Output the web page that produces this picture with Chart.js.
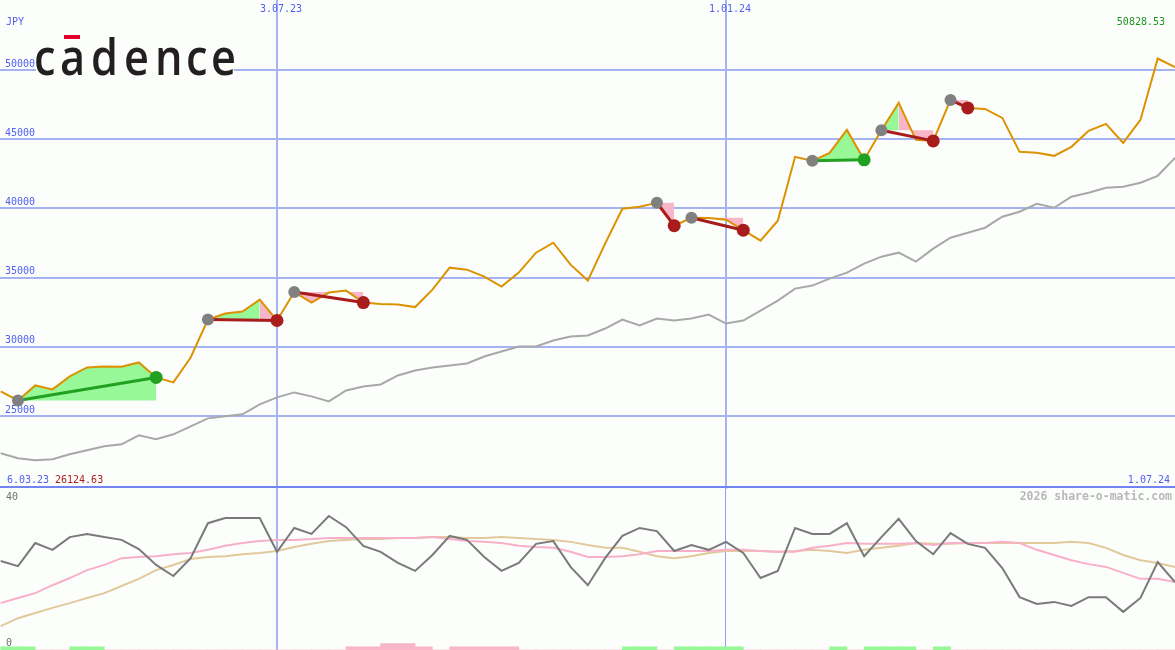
<!DOCTYPE html>
<html>
<head>
<meta charset="utf-8">
<script src="https://cdn.jsdelivr.net/npm/chart.js@4/dist/chart.umd.min.js"></script>
<style>
html,body{margin:0;padding:0;background:#fcfefc;}
#wrap{position:relative;width:1175px;height:650px;overflow:hidden;background:#fcfefc;}
#main{position:absolute;left:0;top:0;}
#lower{position:absolute;left:0;top:489px;}
.logo-bg{position:absolute;left:36px;top:33px;width:198px;height:45px;background:#fcfefc;}
.logo span{position:absolute;top:29.7px;font:600 51px 'Open Sans';line-height:51px;color:#231f20;transform:scaleX(0.85);transform-origin:0 0;white-space:pre;}
.macron{position:absolute;left:64px;top:35px;width:16px;height:4px;background:#e4002b;}
</style>
</head>
<body>
<div id="wrap">
<canvas id="main" width="1175" height="489"></canvas>
<canvas id="lower" width="1175" height="161"></canvas>
<div class="logo-bg"></div>
<div class="logo"><span style="left:33.5px">c</span><span style="left:59.5px">a</span><span style="left:90.5px">d</span><span style="left:123.5px">e</span><span style="left:154.5px">n</span><span style="left:185.5px">c</span><span style="left:210.5px">e</span></div>
<div class="macron"></div>
</div>
<script>
// ---------- data ----------
const currency = 'JPY';
const startLabel = '6.03.23';
const endLabel = '1.07.24';
const dateTickIdx = [16, 42];
const dateTickLabels = ['3.07.23', '1.01.24'];
const priceTicks = [25000, 30000, 35000, 40000, 45000, 50000];
const oscTickLabels = ['40', '0'];
const credit = '2026 share-o-matic.com';

// weekly closes (index 0..68)
const price = [26777, 26124.63, 27210, 26922, 27859, 28508, 28580, 28560, 28869, 27787,
  27426, 29229, 31970, 32403, 32547, 33412, 31900, 33953, 33196, 33917,
  34061, 33196, 33088, 33052, 32871, 34134, 35720, 35576, 35071, 34350,
  35360, 36802, 37523, 35937, 34783, 37451, 39975, 40120, 40408, 38749,
  39326, 39300, 39182, 38425, 37667, 39110, 43726, 43437, 44014, 45673,
  43509, 45650, 47620, 44952, 44879, 47836, 47259, 47187, 46538, 44086,
  44014, 43798, 44447, 45601, 46106, 44735, 46394, 50828.53, 50216];

// moving average
const avg = [22306, 21945, 21801, 21873, 22234, 22522, 22811, 22955, 23604, 23316,
  23676, 24253, 24830, 24974, 25119, 25840, 26345, 26705, 26417, 26056,
  26849, 27138, 27282, 27931, 28292, 28508, 28652, 28797, 29302, 29662,
  30023, 30023, 30455, 30744, 30816, 31321, 31970, 31537, 32042, 31898,
  32042, 32331, 31682, 31898, 32619, 33340, 34206, 34422, 34927, 35360,
  36009, 36514, 36802, 36153, 37091, 37884, 38244, 38605, 39398, 39759,
  40336, 40047, 40841, 41129, 41490, 41562, 41850, 42355, 43653];

// trades: entry / exit week index
const entryIdx = [1, 12, 17, 38, 40, 47, 51, 55];
const exitIdx  = [9, 16, 21, 39, 43, 50, 54, 56];

// lower panel indicators
const osc = [21.9, 20.6, 26.4, 24.7, 27.9, 28.7, 27.9, 27.2, 24.9, 20.9,
  18.1, 22.6, 31.4, 32.7, 32.7, 32.7, 24.2, 30.2, 28.7, 33.2,
  30.4, 25.7, 24.2, 21.4, 19.4, 23.4, 28.2, 27.2, 22.9, 19.4,
  21.4, 26.2, 26.9, 20.4, 15.8, 22.6, 28.2, 30.2, 29.4, 24.4,
  25.9, 24.7, 26.7, 23.9, 17.6, 19.4, 30.2, 28.7, 28.7, 31.4,
  23.1, 27.9, 32.5, 26.9, 23.6, 28.9, 26.2, 25.2, 20.1, 12.8,
  11.1, 11.6, 10.6, 12.8, 12.8, 9.1, 12.6, 21.6, 16.6];
const oscFast = [11.3, 12.6, 13.8, 15.8, 17.6, 19.6, 20.9, 22.6, 22.9, 23.1,
  23.6, 23.9, 24.7, 25.7, 26.4, 26.9, 27.2, 27.2, 27.4, 27.7,
  27.7, 27.7, 27.7, 27.7, 27.7, 27.9, 27.4, 26.9, 26.7, 26.4,
  25.7, 25.4, 25.2, 24.2, 22.9, 22.9, 23.1, 23.6, 24.4, 24.4,
  24.4, 24.4, 24.7, 24.7, 24.4, 24.2, 24.2, 25.2, 25.7, 26.4,
  26.2, 26.2, 26.2, 26.4, 25.9, 26.4, 26.4, 26.4, 26.7, 26.4,
  24.7, 23.4, 22.1, 21.1, 20.4, 18.9, 17.4, 17.4, 16.6];
const oscSlow = [5.5, 7.5, 8.8, 10.1, 11.3, 12.6, 13.8, 15.6, 17.4, 19.6,
  20.9, 22.4, 22.9, 23.1, 23.6, 23.9, 24.4, 25.4, 26.2, 26.9,
  27.2, 27.4, 27.4, 27.7, 27.7, 27.9, 27.9, 27.7, 27.7, 27.9,
  27.7, 27.4, 27.2, 26.7, 25.9, 25.2, 25.2, 24.2, 23.1, 22.6,
  23.1, 23.9, 24.4, 24.4, 24.4, 24.2, 24.4, 24.7, 24.4, 23.9,
  24.7, 25.2, 25.7, 26.4, 26.2, 26.2, 26.4, 26.4, 26.4, 26.4,
  26.4, 26.4, 26.7, 26.4, 25.2, 23.4, 22.1, 21.4, 20.4];
// signal strip per week interval: 1 = buy zone, -1 = sell zone, -2 = strong sell
const strip = [1, 1, 0, 0, 1, 1, 0, 0, 0, 0,
  0, 0, 0, 0, 0, 0, 0, 0, 0, 0,
  -1, -1, -2, -2, -1, 0, -1, -1, -1, -1,
  0, 0, 0, 0, 0, 0, 1, 1, 0, 1,
  1, 1, 1, 0, 0, 0, 0, 0, 1, 0,
  1, 1, 1, 0, 1, 0, 0, 0, 0, 0,
  0, 0, 0, 0, 0, 0, 0, 0];

// ---------- styles ----------
const BLUE = '#4f5ff0';
const GRID = '#a6b3f3';
const ORANGE = '#dc9200';
const MA_GRAY = '#a8a8a8';
const FILL_GREEN = '#98f898';
const FILL_PINK = '#f8b6c8';
const WIN = '#22a022';
const LOSS = '#a81c1c';
const ENTRY = '#808080';
const FONT = '"DejaVu Sans Mono", monospace';

Chart.defaults.font.family = FONT;
Chart.defaults.animation = false;

const pts = arr => arr.map((v, i) => ({x: i, y: v}));
const XMIN = -0.04, XMAX = 68.0;

// ---------- main chart ----------
const mainSets = [];
mainSets.push({data: pts(avg), borderColor: MA_GRAY, borderWidth: 2, pointRadius: 0, fill: false, order: 5});
// shaded areas between price and entry level, merged into runs of equal colour
entryIdx.forEach((e, t) => {
  const xo = exitIdx[t];
  const E = price[e];
  let run = null;
  for (let i = e; i < xo; i++) {
    const col = price[i + 1] > E ? FILL_GREEN : FILL_PINK;
    if (!run || run.backgroundColor !== col) {
      run = {
        data: [{x: i, y: price[i]}],
        borderColor: 'rgba(0,0,0,0)', borderWidth: 0, pointRadius: 0,
        fill: {value: E}, backgroundColor: col, order: 4
      };
      mainSets.push(run);
    }
    run.data.push({x: i + 1, y: price[i + 1]});
  }
});
mainSets.push({data: pts(price), borderColor: ORANGE, borderWidth: 2, pointRadius: 0, fill: false, order: 3});
entryIdx.forEach((e, t) => {
  const xo = exitIdx[t];
  const win = price[xo] > price[e];
  mainSets.push({
    data: [{x: e, y: price[e]}, {x: xo, y: price[xo]}],
    borderColor: win ? WIN : LOSS, borderWidth: 3, pointRadius: 0, fill: false, order: 2
  });
});
mainSets.push({
  data: entryIdx.map(e => ({x: e, y: price[e]})),
  showLine: false, pointRadius: 6, pointBorderWidth: 0,
  pointBackgroundColor: ENTRY, pointBorderColor: ENTRY, order: 1
});
mainSets.push({
  data: exitIdx.map(x => ({x: x, y: price[x]})),
  showLine: false, pointRadius: 6.5, pointBorderWidth: 0,
  pointBackgroundColor: exitIdx.map((x, t) => price[x] > price[entryIdx[t]] ? WIN : LOSS),
  pointBorderColor: 'rgba(0,0,0,0)', order: 0
});

const maxPrice = Math.max(...price);
const minPrice = Math.min(...price);

const mainLabels = {
  id: 'mainLabels',
  afterDraw(chart) {
    const {ctx} = chart;
    const x = chart.scales.x;
    ctx.save();
    ctx.font = '10px ' + FONT;
    ctx.textBaseline = 'alphabetic';
    ctx.textAlign = 'left';
    ctx.fillStyle = BLUE;
    ctx.fillText(currency, 6, 25);
    dateTickIdx.forEach((v, k) => ctx.fillText(dateTickLabels[k], x.getPixelForValue(v) - 17, 12));
    ctx.fillText(startLabel, 7, 483);
    ctx.fillStyle = '#b01c1c';
    ctx.fillText(minPrice.toFixed(2), 55, 483);
    ctx.textAlign = 'right';
    ctx.fillStyle = BLUE;
    ctx.fillText(endLabel, 1170, 483);
    ctx.fillStyle = '#1f961f';
    ctx.fillText(maxPrice.toFixed(2), 1165, 25);
    ctx.fillStyle = '#7384f0';
    ctx.fillRect(0, 486, chart.width, 2);
    ctx.restore();
  }
};

new Chart(document.getElementById('main'), {
  type: 'line',
  data: {datasets: mainSets},
  options: {
    responsive: false,
    devicePixelRatio: 1,
    events: [],
    layout: {padding: 0, autoPadding: false},
    plugins: {legend: {display: false}, tooltip: {enabled: false}},
    scales: {
      x: {
        type: 'linear', min: XMIN, max: XMAX, offset: false,
        afterBuildTicks: s => { s.ticks = dateTickIdx.map(v => ({value: v})); },
        grid: {color: GRID, lineWidth: 2, drawTicks: false, offset: false},
        ticks: {display: false},
        border: {display: false}
      },
      y: {
        type: 'linear', min: 19726, max: 55058,
        afterBuildTicks: s => { s.ticks = priceTicks.map(v => ({value: v})); },
        afterFit: s => { s.width = 0; s.paddingTop = 0; s.paddingBottom = 0; },
        grid: {color: GRID, lineWidth: 2, drawTicks: false},
        border: {display: false},
        ticks: {
          mirror: true, padding: 5, labelOffset: -6,
          color: BLUE, font: {size: 10, family: FONT},
          callback: v => String(v)
        }
      }
    }
  },
  plugins: [mainLabels]
});

// ---------- lower chart ----------
const lowerLabels = {
  id: 'lowerLabels',
  afterDraw(chart) {
    const {ctx} = chart;
    const y = chart.scales.y;
    ctx.save();
    ctx.textBaseline = 'alphabetic';
    ctx.font = '10px ' + FONT;
    ctx.fillStyle = '#707070';
    ctx.textAlign = 'left';
    ctx.fillText(oscTickLabels[0], 6, y.getPixelForValue(40) + 10.5);
    ctx.fillText(oscTickLabels[1], 6, y.getPixelForValue(0) - 2);
    ctx.font = 'bold 11.5px ' + FONT;
    ctx.fillStyle = '#b8b8b8';
    ctx.textAlign = 'right';
    ctx.fillText(credit, 1172, 11);
    ctx.restore();
  }
};

new Chart(document.getElementById('lower'), {
  type: 'line',
  data: {
    datasets: [
      {type: 'bar', yAxisID: 'ys', order: 10,
       data: strip.map((l, j) => ({x: j + 0.5, y: Math.abs(l)})),
       backgroundColor: strip.map(l => l > 0 ? FILL_GREEN : FILL_PINK),
       borderWidth: 0, barPercentage: 1, categoryPercentage: 1, grouped: false},
      {data: pts(oscSlow), borderColor: '#e2c99c', borderWidth: 2, pointRadius: 0, fill: false, order: 3},
      {data: pts(oscFast), borderColor: '#f8b0c8', borderWidth: 2, pointRadius: 0, fill: false, order: 2},
      {data: pts(osc), borderColor: '#7a7a7a', borderWidth: 2, pointRadius: 0, fill: false, order: 1}
    ]
  },
  options: {
    responsive: false,
    devicePixelRatio: 1,
    events: [],
    layout: {padding: 0, autoPadding: false},
    plugins: {legend: {display: false}, tooltip: {enabled: false}},
    scales: {
      x: {
        type: 'linear', min: XMIN, max: XMAX, offset: false,
        afterBuildTicks: s => { s.ticks = dateTickIdx.map(v => ({value: v})); },
        grid: {color: c => c.index === 0 ? GRID : '#8f9ff0', lineWidth: c => c.index === 0 ? 2 : 1, drawTicks: false, offset: false},
        ticks: {display: false},
        border: {display: false}
      },
      y: {type: 'linear', min: -0.5, max: 40, display: false},
      ys: {type: 'linear', min: 0, max: 50, display: false}
    }
  },
  plugins: [lowerLabels]
});
</script>
</body>
</html>
